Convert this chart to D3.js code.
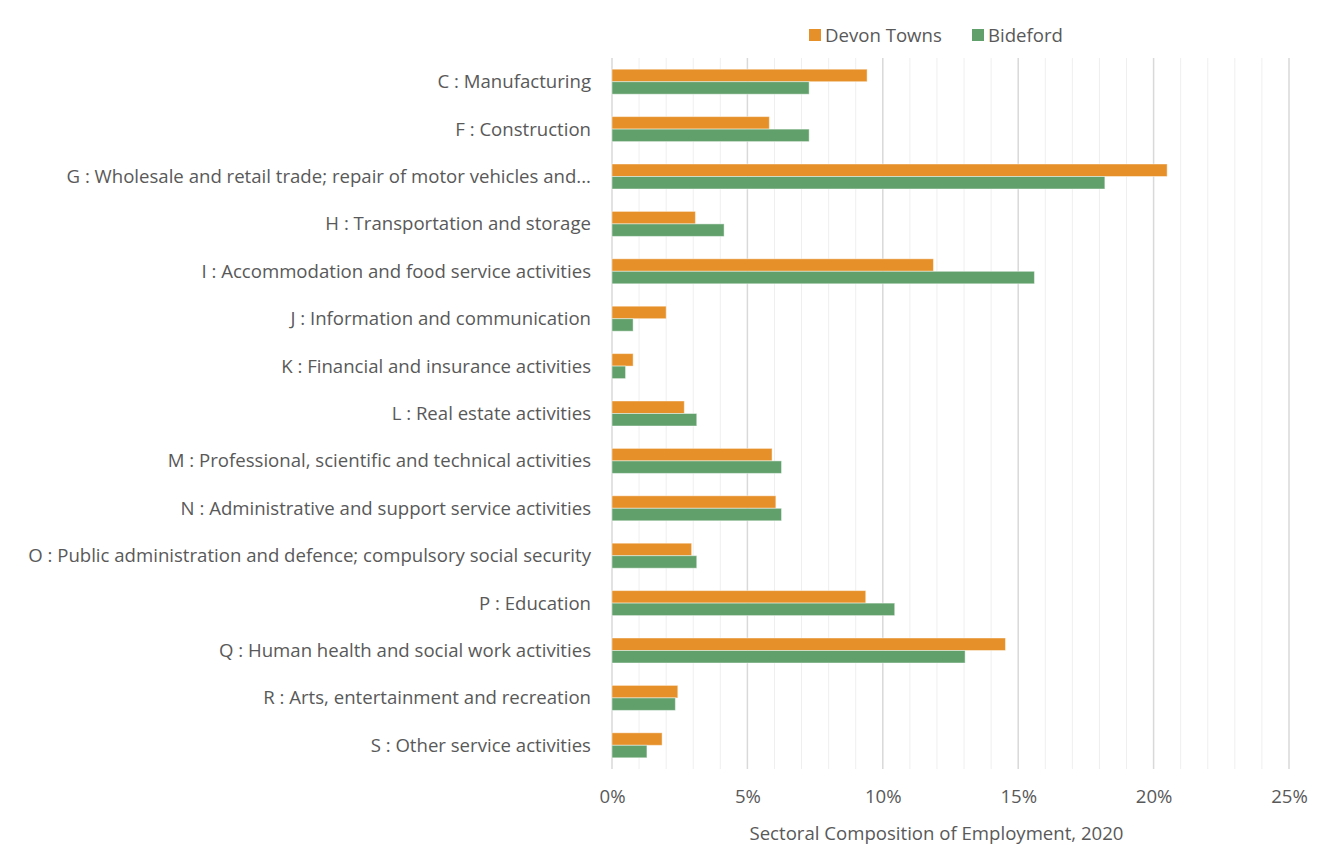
<!DOCTYPE html>
<html>
<head>
  <meta charset="utf-8">
  <style>
    body { margin: 0; background: #fff; }
    svg text { font-family: "Open Sans", "Noto Sans", sans-serif; fill: #595959; }
    .minor { stroke: #efefef; stroke-width: 1px; }
    .major { stroke: #d9d9d9; stroke-width: 1.5px; }
  </style>
</head>
<body>
<script src="https://d3js.org/d3.v7.min.js"></script>
<script>
  // sectors, top to bottom
  var sectors = [
    "C : Manufacturing",
    "F : Construction",
    "G : Wholesale and retail trade; repair of motor vehicles and...",
    "H : Transportation and storage",
    "I : Accommodation and food service activities",
    "J : Information and communication",
    "K : Financial and insurance activities",
    "L : Real estate activities",
    "M : Professional, scientific and technical activities",
    "N : Administrative and support service activities",
    "O : Public administration and defence; compulsory social security",
    "P : Education",
    "Q : Human health and social work activities",
    "R : Arts, entertainment and recreation",
    "S : Other service activities"
  ];
  // percent of employment
  var devonTowns = [9.42, 5.81, 20.50, 3.08, 11.87, 2.00, 0.78, 2.67, 5.91, 6.05, 2.94, 9.37, 14.53, 2.43, 1.85];
  var bideford   = [7.28, 7.28, 18.20, 4.14, 15.60, 0.78, 0.50, 3.13, 6.26, 6.26, 3.13, 10.44, 13.04, 2.34, 1.29];
  var seriesNames = ["Devon Towns", "Bideford"];
  var seriesColors = ["#E69029", "#62A06B"];
  var xTicks = [0, 5, 10, 15, 20, 25];

  var W = 1331, H = 866;
  var plotL = 612, plotR = 1289, plotT = 58, plotB = 769;
  var fontSize = "18.6px";

  var svg = d3.select("body").append("svg")
      .attr("width", W)
      .attr("height", H);

  var x = d3.scaleLinear().domain([0, 25]).range([plotL, plotR]);
  var y = d3.scaleBand().domain(sectors).range([plotT, plotB]);

  // gridlines, one per percent, heavier every 5
  svg.append("g").selectAll("line")
    .data(d3.range(0, 26))
    .join("line")
      .attr("class", function(d) { return d % 5 === 0 ? "major" : "minor"; })
      .attr("x1", function(d) { return x(d); })
      .attr("x2", function(d) { return x(d); })
      .attr("y1", plotT)
      .attr("y2", plotB);

  // bars
  var rows = sectors.map(function(s, i) {
    return { sector: s, values: [devonTowns[i], bideford[i]] };
  });

  var barH = 12.5;
  var g = svg.append("g").selectAll("g")
    .data(rows)
    .join("g")
      .attr("transform", function(d) { return "translate(0," + (y(d.sector) + y.bandwidth() / 2) + ")"; });

  g.selectAll("rect")
    .data(function(d) { return d.values.map(function(v, k) { return { v: v, k: k }; }); })
    .join("rect")
      .attr("x", x(0))
      .attr("y", function(d) { return d.k === 0 ? -barH : 0; })
      .attr("width", function(d) { return x(d.v) - x(0); })
      .attr("height", barH)
      .attr("fill", function(d) { return seriesColors[d.k]; })
      .attr("stroke", "rgba(255,255,255,0.45)")
      .attr("stroke-width", 1);

  // category labels
  svg.append("g").selectAll("text")
    .data(sectors)
    .join("text")
      .attr("x", plotL - 21)
      .attr("y", function(d) { return y(d) + y.bandwidth() / 2; })
      .attr("dy", "0.35em")
      .attr("text-anchor", "end")
      .style("font-size", fontSize)
      .text(function(d) { return d; });

  // x axis
  var xAxis = d3.axisBottom(x)
    .tickValues(xTicks)
    .tickFormat(function(d) { return d + "%"; })
    .tickSize(0)
    .tickPadding(21);

  var ax = svg.append("g")
      .attr("transform", "translate(0," + plotB + ")")
      .call(xAxis);
  ax.select(".domain").remove();
  ax.selectAll(".tick text")
      .style("font-size", fontSize)
      .style("fill", "#595959")
      .attr("font-family", null);

  svg.append("text")
      .attr("x", (plotL + plotR) / 2 - 14)
      .attr("y", 840)
      .attr("text-anchor", "middle")
      .style("font-size", fontSize)
      .text("Sectoral Composition of Employment, 2020");

  // legend
  var legendX = [809, 972];
  var legend = svg.append("g").selectAll("g")
    .data(seriesNames)
    .join("g")
      .attr("transform", function(d, i) { return "translate(" + legendX[i] + ",29)"; });
  legend.append("rect")
      .attr("width", 12)
      .attr("height", 12)
      .attr("fill", function(d, i) { return seriesColors[i]; });
  legend.append("text")
      .attr("x", 16)
      .attr("y", 6)
      .attr("dy", "0.35em")
      .style("font-size", fontSize)
      .text(function(d) { return d; });
</script>
</body>
</html>
